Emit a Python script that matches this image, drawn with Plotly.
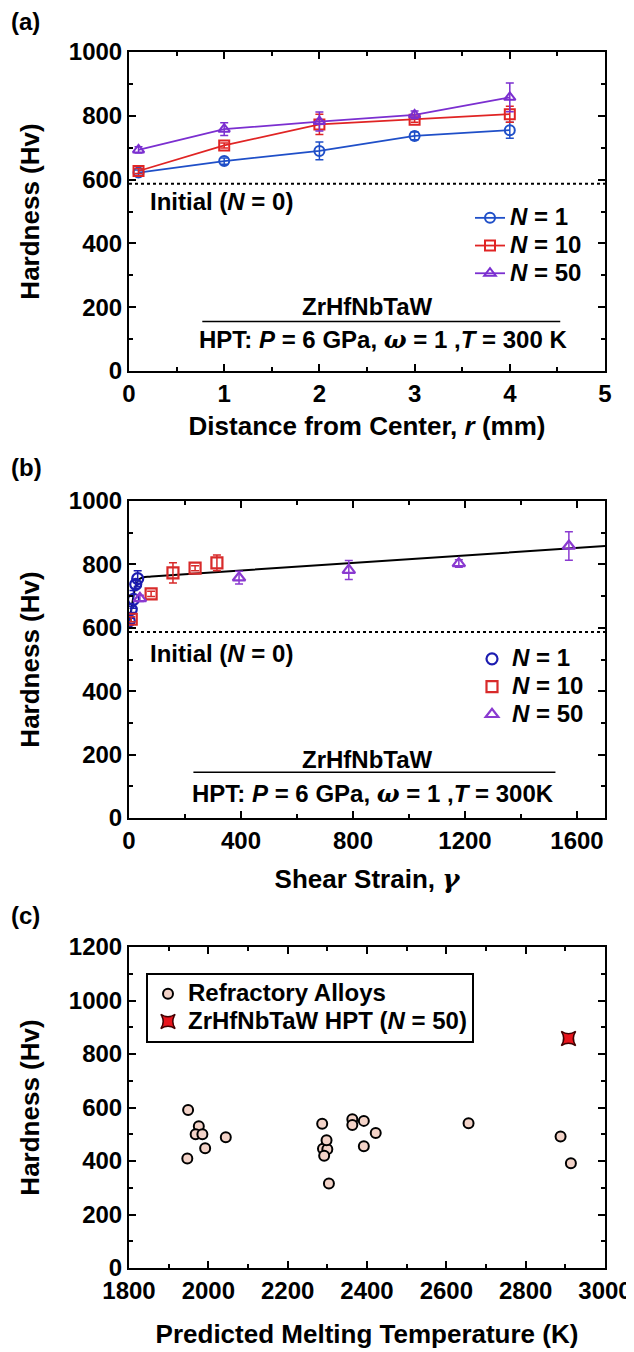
import plotly.graph_objects as go

# ---------------- Panel (a): hardness vs distance ----------------
r_mm = [0.1, 1, 2, 3, 4]
hv_n1 = [622, 658, 690, 737, 755]
err_n1 = [8, 10, 28, 12, 25]
hv_n10 = [627, 707, 773, 788, 805]
err_n10 = [8, 8, 32, 8, 25]
hv_n50 = [693, 758, 782, 803, 858]
err_n50 = [10, 20, 30, 12, 45]
initial_hv = 587

# ---------------- Panel (b): hardness vs shear strain ----------------
strain_n1 = [1, 8, 16, 24, 31]
strain_n10 = [8, 79, 157, 236, 314]
strain_n50 = [39, 393, 785, 1178, 1571]
fit_strain = [0, 8, 16, 25, 35, 50, 80, 1700]
fit_hv = [612, 655, 700, 735, 752, 759, 762, 858]

# ---------------- Panel (c): hardness vs melting temperature ----------------
tm_alloys = [1949, 1947, 1976, 1968, 1985, 1992, 2044, 2287, 2289, 2300, 2298,
             2292, 2304, 2363, 2363, 2392, 2392, 2422, 2656, 2888, 2914]
hv_alloys = [591, 409, 530, 500, 500, 448, 489, 539, 446, 444, 478,
             420, 316, 556, 535, 550, 455, 505, 541, 492, 392]
tm_hpt = [2908]
hv_hpt = [858]

BLUE = "#1f4fc8"
RED = "#e02424"
PURPLE = "#7b2fd0"
BLUE_B = "#1c1cb0"
RED_B = "#d82a2a"
PURPLE_B = "#8a3ad0"
FONT = "Liberation Sans, Arial, sans-serif"

# the page has an 8px body margin: the figure occupies page px 8..634 / 8..1352
OFF = 8
W, H = 634 - OFF, 1352 - OFF


def px(x):  # page x -> paper
    return (x - OFF) / W


def py(y):  # page y -> paper
    return 1 - (y - OFF) / H


L, R = 129, 605

fig = go.Figure()

# ---- (a)
for xs, ys, es, col, sym, name in [
    (r_mm, hv_n1, err_n1, BLUE, "circle-open", "<i>N</i> = 1"),
    (r_mm, hv_n10, err_n10, RED, "square-open", "<i>N</i> = 10"),
    (r_mm, hv_n50, err_n50, PURPLE, "triangle-up-open", "<i>N</i> = 50"),
]:
    fig.add_trace(go.Scatter(
        x=xs, y=ys, mode="lines+markers",
        name="<span style='font-size:24px'>" + name + "</span>",
        line=dict(color=col, width=1.8),
        marker=dict(symbol=sym, size=10, color=col, line=dict(width=2, color=col)),
        error_y=dict(type="data", array=es, color=col, thickness=1.5, width=4),
        xaxis="x", yaxis="y", legend="legend",
    ))

# ---- (b)
fig.add_trace(go.Scatter(
    x=fit_strain, y=fit_hv, mode="lines", line=dict(color="black", width=2, shape="spline"),
    showlegend=False, xaxis="x2", yaxis="y2",
))
for xs, ys, es, col, sym, name in [
    (strain_n1, hv_n1, err_n1, BLUE_B, "circle-open", "<i>N</i> = 1"),
    (strain_n10, hv_n10, err_n10, RED_B, "square-open", "<i>N</i> = 10"),
    (strain_n50, hv_n50, err_n50, PURPLE_B, "triangle-up-open", "<i>N</i> = 50"),
]:
    fig.add_trace(go.Scatter(
        x=xs, y=ys, mode="markers",
        name="<span style='font-size:24px'>" + name + "</span>",
        marker=dict(symbol=sym, size=11, color=col, line=dict(width=2.2, color=col)),
        error_y=dict(type="data", array=es, color=col, thickness=1.5, width=4),
        xaxis="x2", yaxis="y2", legend="legend2",
    ))

# ---- (c)
fig.add_trace(go.Scatter(
    x=tm_alloys, y=hv_alloys, mode="markers",
    name="<span style='font-size:24px'>Refractory Alloys</span>",
    marker=dict(symbol="circle", size=10, color="#f3d3c8", line=dict(width=2, color="black")),
    xaxis="x3", yaxis="y3", legend="legend3",
))
fig.add_trace(go.Scatter(
    x=tm_hpt, y=hv_hpt, mode="markers",
    name="<span style='font-size:24px'>ZrHfNbTaW HPT (<i>N</i> = 50)</span>",
    marker=dict(symbol="star-square", size=13, color="#e8141c", line=dict(width=1.5, color="#400000")),
    xaxis="x3", yaxis="y3", legend="legend3",
))


def axis_common(dtick, minor_dtick, rng, domain, anchor, title, standoff):
    return dict(
        domain=domain, range=rng, anchor=anchor, dtick=dtick, tick0=rng[0],
        automargin=False,
        showline=True, linecolor="black", linewidth=2, mirror="ticks",
        ticks="inside", ticklen=7, tickwidth=2, tickcolor="black",
        showgrid=False, zeroline=False,
        tickfont=dict(family=FONT, size=24, color="black", weight="bold"),
        minor=dict(ticks="inside", ticklen=4, tickwidth=1.5, tickcolor="black", dtick=minor_dtick, showgrid=False),
        title=dict(text=title, font=dict(family=FONT, size=26, color="black", weight="bold"), standoff=standoff),
    )


xd = [px(L), px(R)]
ya = [py(371), py(52)]
yb = [py(818), py(501)]
yc = [py(1268), py(947)]
HV = "Hardness (Hv)"

leg_common = dict(xanchor="left", yanchor="top", bgcolor="rgba(0,0,0,0)",
                  font=dict(family=FONT, size=19, weight="bold", color="black"),
                  tracegroupgap=0, itemwidth=30)

fig.update_layout(
    width=W, height=H, margin=dict(l=0, r=0, t=0, b=0),
    paper_bgcolor="white", plot_bgcolor="white",
    font=dict(family=FONT, color="black"),
    xaxis=axis_common(1, 0.5, [0, 5], xd, "y", "Distance from Center, <i>r</i> (mm)", 11),
    yaxis=axis_common(200, 100, [0, 1000], ya, "x", HV, 22),
    xaxis2=axis_common(400, 200, [0, 1700], xd, "y2",
                       "Shear Strain, <span style='font-family:DejaVu Serif'><i>γ</i></span>", 17),
    yaxis2=axis_common(200, 100, [0, 1000], yb, "x2", HV, 22),
    xaxis3=axis_common(200, 100, [1800, 3000], xd, "y3", "Predicted Melting Temperature (K)", 22),
    yaxis3=axis_common(200, 100, [0, 1200], yc, "x3", HV, 22),
    legend=dict(x=px(470), y=py(199), **leg_common),
    legend2=dict(x=px(472), y=py(640), **leg_common),
    legend3=dict(x=px(146), y=py(973), xanchor="left", yanchor="top",
                 bgcolor="white", bordercolor="black", borderwidth=2,
                 font=dict(family=FONT, size=19, weight="bold", color="black"),
                 tracegroupgap=0, itemwidth=30),
    showlegend=True,
)

ann_font = dict(family=FONT, size=24, color="black", weight="bold")
lab_font = dict(family=FONT, size=24, color="black", weight="bold")
annotations = [
    dict(text="(a)", x=px(9), y=py(22), xref="paper", yref="paper", xanchor="left", yanchor="middle",
         showarrow=False, font=lab_font),
    dict(text="(b)", x=px(9), y=py(467), xref="paper", yref="paper", xanchor="left", yanchor="middle",
         showarrow=False, font=lab_font),
    dict(text="(c)", x=px(9), y=py(915), xref="paper", yref="paper", xanchor="left", yanchor="middle",
         showarrow=False, font=lab_font),
    # panel a
    dict(text="Initial (<i>N</i> = 0)", x=0.2, y=532, xref="x", yref="y", xanchor="left",
         showarrow=False, font=ann_font),
    dict(text="ZrHfNbTaW", x=2.5, y=203, xref="x", yref="y", showarrow=False, font=ann_font),
    dict(text="HPT: <i>P</i> = 6 GPa, <span style='font-family:DejaVu Serif'><i>ω</i></span> = 1 ,<i>T</i> = 300 K",
         x=2.67, y=100, xref="x", yref="y", showarrow=False, font=ann_font),
    # panel b
    dict(text="Initial (<i>N</i> = 0)", x=68, y=520, xref="x2", yref="y2", xanchor="left",
         showarrow=False, font=ann_font),
    dict(text="ZrHfNbTaW", x=850, y=186, xref="x2", yref="y2", showarrow=False, font=ann_font),
    dict(text="HPT: <i>P</i> = 6 GPa, <span style='font-family:DejaVu Serif'><i>ω</i></span> = 1 ,<i>T</i> = 300K",
         x=873, y=78, xref="x2", yref="y2", showarrow=False, font=ann_font),
]
fig.update_layout(annotations=annotations)

shapes = [
    dict(type="line", xref="x domain", yref="y", x0=0, x1=1, y0=initial_hv, y1=initial_hv,
         line=dict(color="black", width=2, dash="dot")),
    dict(type="line", xref="x2 domain", yref="y2", x0=0, x1=1, y0=initial_hv, y1=initial_hv,
         line=dict(color="black", width=2, dash="dot")),
    dict(type="line", xref="x", yref="y", x0=0.77, x1=4.53, y0=155, y1=155,
         line=dict(color="black", width=1.5)),
    dict(type="line", xref="x2", yref="y2", x0=230, x1=1523, y0=144, y1=144,
         line=dict(color="black", width=1.5)),
]
fig.update_layout(shapes=shapes)

fig.write_html("out.html")
